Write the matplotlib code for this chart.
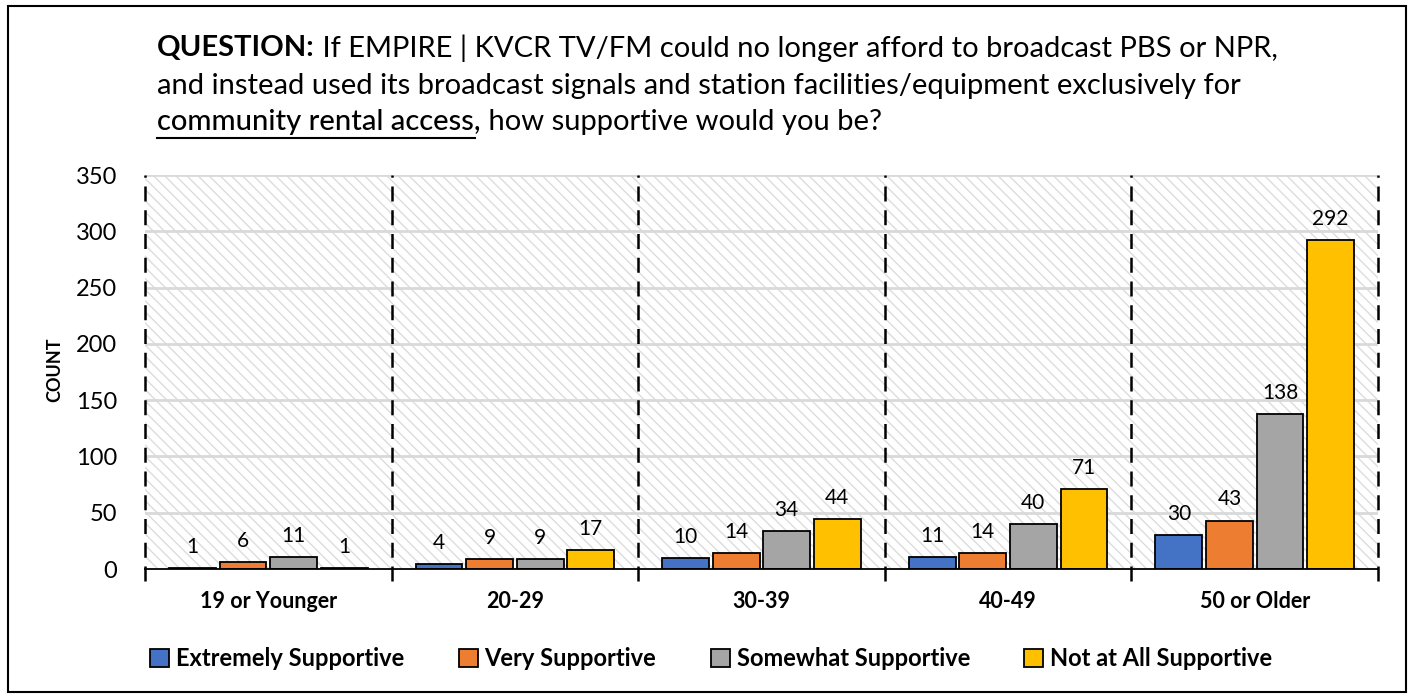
import numpy as np
import matplotlib.pyplot as plt
from matplotlib.patches import Rectangle
from matplotlib.lines import Line2D

groups = ["19 or Younger", "20-29", "30-39", "40-49", "50 or Older"]
series = ["Extremely Supportive", "Very Supportive", "Somewhat Supportive", "Not at All Supportive"]
extremely = [1, 4, 10, 11, 30]
very = [6, 9, 14, 14, 43]
somewhat = [11, 9, 34, 40, 138]
not_at_all = [1, 17, 44, 71, 292]
colors = ["#4472C4", "#ED7D31", "#A5A5A5", "#FFC000"]

plt.rcParams["font.family"] = ["Lato", "DejaVu Sans"]
plt.rcParams["hatch.linewidth"] = 1.0

fig = plt.figure(figsize=(14.14, 6.98), dpi=100)
ax = fig.add_axes([145 / 1414, 1 - 569 / 698, 1233 / 1414, 394 / 698])

# hatched background like the excel plot area
ax.add_patch(Rectangle((0, 0), 1, 1, transform=ax.transAxes, facecolor="white",
                       edgecolor="#dcdcdc", lw=0, hatch="\\\\\\", zorder=0))
ax.set_ylim(0, 350)
ax.set_xlim(-0.5, 4.5)
ax.set_yticks(range(0, 351, 50))
for yv in range(50, 351, 50):
    ax.axhline(yv, color="#d9d9d9", lw=2, zorder=1)

x = np.arange(len(groups))
w = 0.19
step = 0.205
for i, (vals, c) in enumerate(zip([extremely, very, somewhat, not_at_all], colors)):
    pos = x + (i - 1.5) * step
    bars = ax.bar(pos, vals, w, color=c, edgecolor="black", lw=1.3, zorder=3)
    for b, v in zip(bars, vals):
        ax.annotate(str(v), (b.get_x() + b.get_width() / 2, v), xytext=(0, 8),
                    textcoords="offset points", ha="center", va="bottom",
                    fontsize=15, zorder=4)

for xb in np.arange(-0.5, 5, 1):
    ax.axvline(xb, ymin=-0.03, ymax=1, color="black", lw=1.8, ls=(0, (6, 3.5)),
               clip_on=False, zorder=2)

for s in ["top", "right", "left"]:
    ax.spines[s].set_visible(False)
ax.spines["bottom"].set_color("black")
ax.spines["bottom"].set_linewidth(1.3)
ax.spines["bottom"].set_zorder(5)
ax.set_xticks(x)
ax.set_xticklabels(groups, fontsize=15.5, fontweight="bold")
ax.tick_params(axis="x", length=0, pad=16)
ax.tick_params(axis="y", length=0, pad=20, labelsize=17)
fig.text(55 / 1414, 1 - 370 / 698, "COUNT", rotation=90, ha="center", va="center",
         fontsize=13, fontweight="bold")

handles = [Rectangle((0, 0), 1, 1, facecolor=c, edgecolor="black", lw=1.3) for c in colors]
fig.legend(handles, series, loc="center", bbox_to_anchor=(0.503, 1 - 659 / 698), ncol=4,
           frameon=False, handlelength=0.8, handleheight=0.8, handletextpad=0.3,
           columnspacing=2.3, prop={"weight": "bold", "size": 17})

# question text, drawn piece by piece
fig.canvas.draw()
renderer = fig.canvas.get_renderer()
lines = [
    [("QUESTION:", "bold", False), (" If EMPIRE | KVCR TV/FM could no longer afford to broadcast PBS or NPR,", "normal", False)],
    [("and instead used its broadcast signals and station facilities/equipment exclusively for", "normal", False)],
    [("community rental access,", "medium", True), (" how supportive would you be?", "normal", False)],
]
ys = [48, 86, 122]

# pick a size so the first line spans the same width as the original
probe = [fig.text(0, 0, txt, fontsize=20, fontweight=wt) for txt, wt, ul in lines[0]]
width = sum(t.get_window_extent(renderer).width for t in probe)
for t in probe:
    t.remove()
title_size = 20 * (1276 - 157) / width

for line, yp in zip(lines, ys):
    xp = 157
    for txt, wt, ul in line:
        t = fig.text(xp / 1414, 1 - yp / 698, txt, fontsize=title_size, fontweight=wt,
                     va="center", ha="left")
        bb = t.get_window_extent(renderer)
        if ul:
            uy = 1 - (yp + 16) / 698
            fig.add_artist(Line2D([bb.x0 / 1414, (bb.x1 - 6) / 1414], [uy, uy],
                                  color="black", lw=1.5))
        xp = bb.x1

fig.add_artist(Rectangle((8 / 1414, 6 / 698), 1398 / 1414, 686 / 698, fill=False,
                         edgecolor="black", lw=1.5, transform=fig.transFigure))

fig.savefig("out.png", dpi=100)
